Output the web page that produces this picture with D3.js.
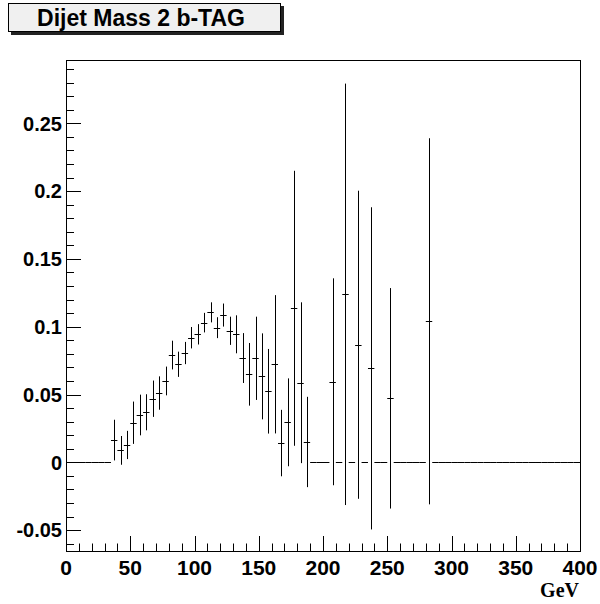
<!DOCTYPE html>
<html>
<head>
<meta charset="utf-8">
<script src="https://cdn.jsdelivr.net/npm/d3@7"></script>
<style>
  body { margin: 0; background: white; }
  text { font-family: "Liberation Sans", Arial, Helvetica, sans-serif; }
</style>
</head>
<body>
<div id="chart"></div>
<script>
// histogram: 80 bins of 5 GeV from 0 to 400
const binLow = d3.range(0, 400, 5);
const values = [
  0, 0, 0, 0, 0, 0, 0, 0.0164, 0.0088, 0.0128,
  0.0292, 0.0349, 0.0369, 0.0469, 0.0511, 0.0600, 0.0791, 0.0723, 0.0806, 0.0919,
  0.0944, 0.1030, 0.1106, 0.0993, 0.1086, 0.0970, 0.0944, 0.0769, 0.0649, 0.0767,
  0.0634, 0.0524, 0.0723, 0.0142, 0.0295, 0.1136, 0.0587, 0.0150, 0, 0,
  0, 0.0594, 0, 0.1239, 0, 0.0867, 0, 0.0693, 0, 0,
  0.0472, 0, 0, 0, 0, 0, 0.1040, 0, 0, 0,
  0, 0, 0, 0, 0, 0, 0, 0, 0, 0,
  0, 0, 0, 0, 0, 0, 0, 0, 0, 0
];
const errors = [
  0, 0, 0, 0, 0, 0, 0, 0.0150, 0.0106, 0.0104,
  0.0156, 0.0150, 0.0133, 0.0134, 0.0123, 0.0106, 0.0106, 0.0093, 0.0082, 0.0079,
  0.0075, 0.0072, 0.0074, 0.0077, 0.0085, 0.0104, 0.0140, 0.0184, 0.0231, 0.0307,
  0.0317, 0.0312, 0.0510, 0.0245, 0.0324, 0.1014, 0.0593, 0.0333, 0, 0,
  0, 0.0763, 0, 0.1554, 0, 0.1136, 0, 0.1188, 0, 0,
  0.0813, 0, 0, 0, 0, 0, 0.1350, 0, 0, 0,
  0, 0, 0, 0, 0, 0, 0, 0, 0, 0,
  0, 0, 0, 0, 0, 0, 0, 0, 0, 0
];
const binWidth = 5;
const xMajor = [0, 50, 100, 150, 200, 250, 300, 350, 400];
const yMajor = [-0.05, 0, 0.05, 0.1, 0.15, 0.2, 0.25];
const yLabels = ["-0.05", "0", "0.05", "0.1", "0.15", "0.2", "0.25"];
const title = "Dijet Mass 2 b-TAG";
const xTitle = "GeV";

const width = 600, height = 604;
const padL = 66, padR = 580, padT = 60, padB = 551;

const svg = d3.select("#chart").append("svg")
  .attr("width", width)
  .attr("height", height);

const x = d3.scaleLinear().domain([0, 400]).range([padL, padR]);
const y = d3.scaleLinear().domain([-0.0654, 0.2967]).range([padB, padT]);

const bins = binLow.map((lo, i) => ({lo: lo, v: values[i], e: errors[i]}));

// horizontal bars (bin width)
svg.append("g").selectAll("line")
  .data(bins)
  .join("line")
  .attr("x1", d => x(d.lo))
  .attr("x2", d => x(d.lo + binWidth))
  .attr("y1", d => Math.round(y(d.v)) + 0.5)
  .attr("y2", d => Math.round(y(d.v)) + 0.5)
  .attr("stroke", "#000")
  .attr("stroke-width", 1);

// vertical error bars
svg.append("g").selectAll("line")
  .data(bins.filter(d => d.e > 0))
  .join("line")
  .attr("x1", d => Math.round(x(d.lo + binWidth / 2)) + 0.5)
  .attr("x2", d => Math.round(x(d.lo + binWidth / 2)) + 0.5)
  .attr("y1", d => y(d.v - d.e))
  .attr("y2", d => y(d.v + d.e))
  .attr("stroke", "#000")
  .attr("stroke-width", 1);

// frame
svg.append("rect")
  .attr("x", padL + 0.5).attr("y", padT + 0.5)
  .attr("width", padR - padL).attr("height", padB - padT)
  .attr("fill", "none").attr("stroke", "#000").attr("stroke-width", 1);

// x axis ticks (inside, pointing up)
const xMinor = d3.range(0, 401, 10);
svg.append("g").selectAll("line")
  .data(xMinor)
  .join("line")
  .attr("x1", d => Math.round(x(d)) + 0.5)
  .attr("x2", d => Math.round(x(d)) + 0.5)
  .attr("y1", padB)
  .attr("y2", d => padB - (d % 50 === 0 ? 15 : 7.5))
  .attr("stroke", "#000");

svg.append("g").selectAll("text")
  .data(xMajor)
  .join("text")
  .attr("x", d => x(d))
  .attr("y", 575)
  .attr("text-anchor", "middle")
  .attr("font-size", 21)
  .attr("font-weight", "bold")
  .text(d => d);

// y axis ticks (inside, pointing right)
const yMinor = d3.range(-6, 30).map(k => k / 100);
svg.append("g").selectAll("line")
  .data(yMinor)
  .join("line")
  .attr("x1", padL)
  .attr("x2", d => padL + (Math.round(d * 100) % 5 === 0 ? 15 : 8))
  .attr("y1", d => Math.round(y(d)) + 0.5)
  .attr("y2", d => Math.round(y(d)) + 0.5)
  .attr("stroke", "#000");

svg.append("g").selectAll("text")
  .data(yMajor)
  .join("text")
  .attr("x", 62)
  .attr("y", d => y(d))
  .attr("dy", "0.36em")
  .attr("text-anchor", "end")
  .attr("font-size", 20)
  .attr("font-weight", "bold")
  .text((d, i) => yLabels[i]);

svg.append("text")
  .attr("x", 579)
  .attr("y", 597)
  .attr("text-anchor", "end")
  .attr("font-size", 20)
  .attr("font-weight", "bold")
  .style("font-family", "'Liberation Serif', 'Times New Roman', serif")
  .text(xTitle);

// title box with shadow
svg.append("rect")
  .attr("x", 11).attr("y", 6).attr("width", 273).attr("height", 29)
  .attr("fill", "#222");
svg.append("rect")
  .attr("x", 8.5).attr("y", 3.5).attr("width", 272).attr("height", 28)
  .attr("fill", "#f0f0f0").attr("stroke", "#000");
svg.append("text")
  .attr("x", 141)
  .attr("y", 26)
  .attr("text-anchor", "middle")
  .attr("font-size", 23)
  .attr("font-weight", "bold")
  .text(title);
</script>
</body>
</html>
